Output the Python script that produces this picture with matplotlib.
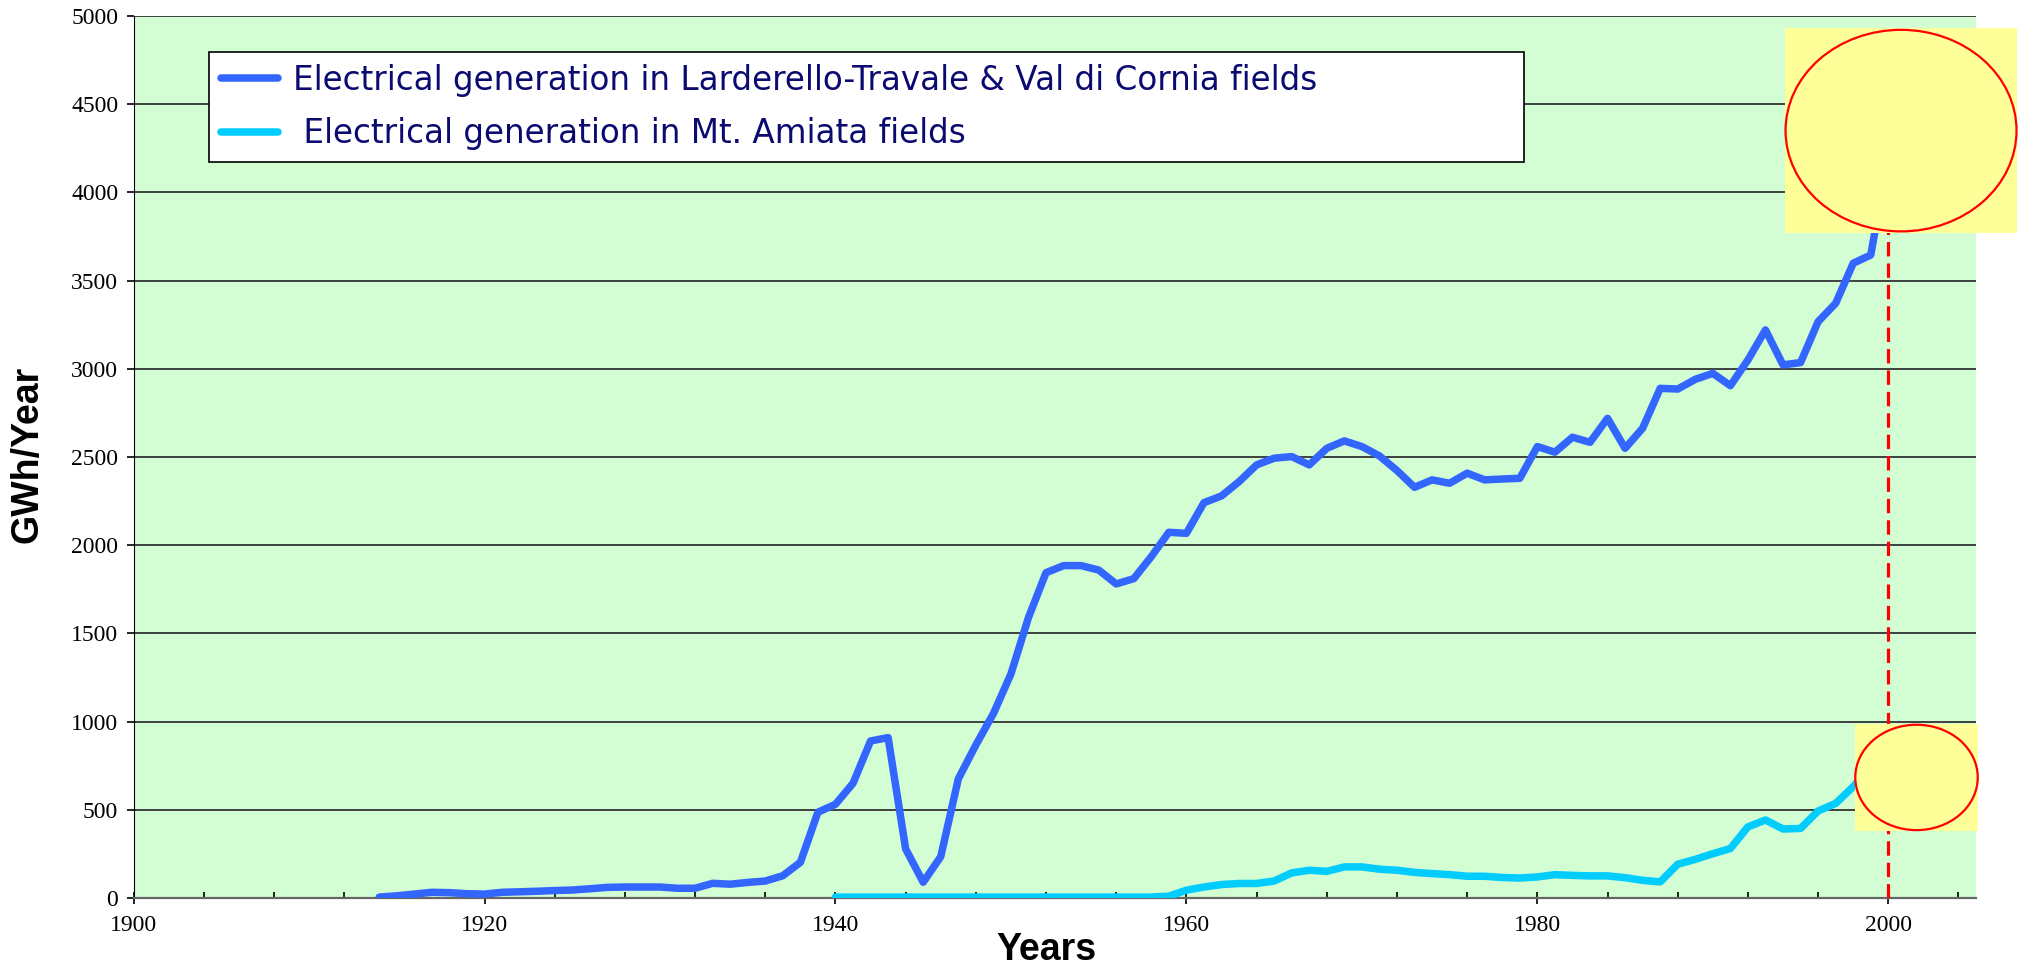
import matplotlib
matplotlib.use("Agg")
import matplotlib.pyplot as plt
from matplotlib.ticker import MultipleLocator
from matplotlib.patches import Rectangle, Ellipse

# Larderello-Travale & Val di Cornia, GWh/year, 1914-2000
lard_years = list(range(1914, 2001))
lard_gwh = [5, 12, 22, 32, 30, 24, 22, 32, 35, 38, 42, 45, 52, 60, 62, 62, 62, 55, 55, 83,
            78, 88, 96, 126, 202, 486, 531, 650, 890, 909, 278, 89, 234, 675, 867, 1045,
            1270, 1590, 1844, 1884, 1884, 1859, 1780, 1810, 1935, 2073, 2067, 2241, 2279,
            2360, 2455, 2493, 2502, 2455, 2549, 2591, 2559, 2506, 2423, 2328, 2370, 2351,
            2408, 2370, 2375, 2379, 2559, 2527, 2612, 2583, 2719, 2549, 2663, 2889, 2885,
            2940, 2974, 2904, 3050, 3220, 3022, 3035, 3267, 3371, 3598, 3645, 4200]

# Mt. Amiata, GWh/year, 1940-2000
amiata_years = list(range(1940, 2001))
amiata_gwh = [5] * 19 + [10, 44, 62, 76, 82, 82, 96, 142, 157, 151, 176, 176, 163, 157, 145,
                         138, 132, 123, 123, 116, 113, 119, 132, 128, 125, 125, 115, 100, 91,
                         191, 219, 251, 280, 403, 442, 391, 394, 493, 536, 631, 740, 820]

labels = ["Electrical generation in Larderello-Travale & Val di Cornia fields",
          " Electrical generation in Mt. Amiata fields"]

fig = plt.figure(figsize=(20.24, 9.67), dpi=100)
ax = fig.add_axes([0.066, 0.0714, 0.9103, 0.9121])
ax.set_facecolor("#D3FED3")

ax.plot(lard_years, lard_gwh, color="#3366FF", lw=5.4, solid_joinstyle="round",
        solid_capstyle="round", label=labels[0], zorder=3)
ax.plot(amiata_years, amiata_gwh, color="#00CCFF", lw=5.4, solid_joinstyle="round",
        solid_capstyle="round", label=labels[1], zorder=3)

ax.vlines(2000, 0, 3790, colors="#FF0000", linestyles=(0, (4.5, 2.2)), lw=2.3, zorder=4)

# highlight boxes (yellow squares with red ellipses)
for x0, y0, w, h in [(0.8963, 0.7540, 0.1260, 0.2320), (0.9343, 0.0760, 0.0668, 0.1213)]:
    ax.add_patch(Rectangle((x0, y0), w, h, transform=ax.transAxes, facecolor="#FFFF99",
                           edgecolor="none", clip_on=False, zorder=6))
    ax.add_patch(Ellipse((x0 + w / 2, y0 + h / 2), w * 0.995, h * 0.985, transform=ax.transAxes,
                         facecolor="none", edgecolor="#FF0000", lw=1.6, clip_on=False, zorder=7))

ax.set_xlim(1900, 2005)
ax.set_ylim(0, 5000)
ax.set_yticks(range(0, 5001, 500))
ax.xaxis.set_major_locator(MultipleLocator(20))
ax.xaxis.set_minor_locator(MultipleLocator(4))
ax.yaxis.grid(True, color="#333333", lw=1.3)
ax.set_axisbelow(True)

for s in ["top", "right"]:
    ax.spines[s].set_visible(False)
ax.spines["left"].set_color("black")
ax.spines["bottom"].set_color("#666666")
ax.spines["bottom"].set_linewidth(1.6)

ax.tick_params(axis="y", direction="out", length=5, width=1.2, pad=6)
ax.tick_params(axis="x", which="major", direction="inout", length=9, width=1.2, pad=8)
ax.tick_params(axis="x", which="minor", direction="in", length=4, width=1.2)
for t in ax.get_xticklabels() + ax.get_yticklabels():
    t.set_fontfamily("Liberation Serif")
    t.set_fontsize(17)

fig.text(0.0138, 0.5305, "GWh/Year", rotation=90, ha="center", va="center",
         fontsize=27, fontweight="bold", family="Liberation Sans")
fig.text(0.517, 0.0075, "Years", ha="center", va="baseline",
         fontsize=27, fontweight="bold", family="Liberation Sans")

leg = ax.legend(loc="upper left", bbox_to_anchor=(0.041, 0.8356, 0.7137, 0.1234),
                mode="expand", fancybox=False, framealpha=1, edgecolor="black",
                prop={"family": "DejaVu Sans", "size": 23.5}, handlelength=1.75,
                handletextpad=0.45, borderpad=0.36, labelspacing=0.62, borderaxespad=0)
leg.get_frame().set_linewidth(1.2)
for t in leg.get_texts():
    t.set_color("#0A0A70")

fig.savefig("out.png", dpi=100)
